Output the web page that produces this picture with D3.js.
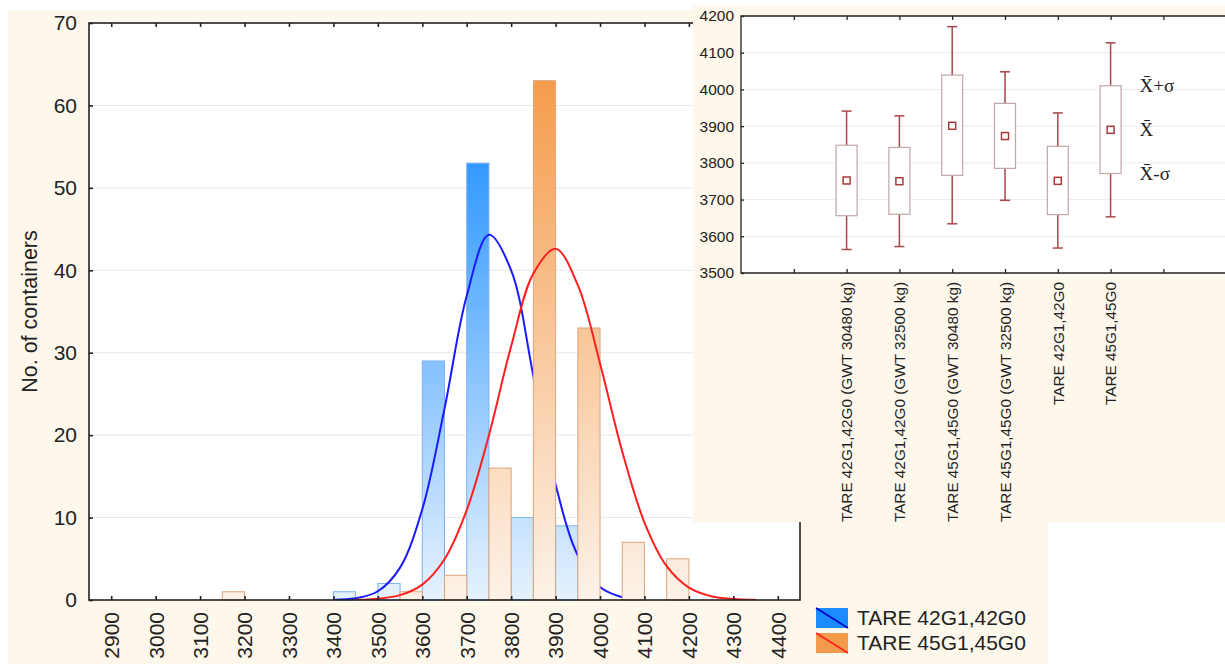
<!DOCTYPE html>
<html>
<head>
<meta charset="utf-8">
<script src="https://cdn.jsdelivr.net/npm/d3@7"></script>
<style>
  body { margin: 0; background: #ffffff; }
  svg { display: block; font-family: "Liberation Sans", Arial, sans-serif; }
</style>
</head>
<body>
<svg id="chart" width="1225" height="664"></svg>
<script>
// histogram data: bins of 100 kg, first series in left half, second in right half
const binStarts = [3100, 3200, 3300, 3400, 3500, 3600, 3700, 3800, 3900, 4000, 4100];
const tare42 = [0, 0, 0, 1, 2, 29, 53, 10, 9, 0, 0];
const tare45 = [1, 0, 0, 0, 1, 3, 16, 63, 33, 7, 5];

// fitted normal curves
const fit42X = [3400, 3450, 3500, 3550, 3600, 3650, 3700, 3750, 3800, 3850, 3900, 3950, 4000, 4050, 4100];
const fit42Y = [0.03, 0.21, 1.06, 3.93, 11.0, 23.2, 36.9, 44.3, 40.0, 27.2, 14.0, 5.4, 1.57, 0.34, 0.06];
const fit45X = [3450, 3500, 3550, 3600, 3650, 3700, 3750, 3800, 3850, 3900, 3950, 4000, 4050, 4100, 4150, 4200, 4250, 4300, 4350];
const fit45Y = [0.03, 0.16, 0.59, 1.87, 4.94, 10.9, 20.0, 30.8, 39.6, 42.6, 38.2, 28.7, 18.0, 9.4, 4.1, 1.5, 0.46, 0.12, 0.03];

const xTicks = [2900, 3000, 3100, 3200, 3300, 3400, 3500, 3600, 3700, 3800, 3900, 4000, 4100, 4200, 4300, 4400];
const yTicks = [0, 10, 20, 30, 40, 50, 60, 70];
const seriesNames = ["TARE 42G1,42G0", "TARE 45G1,45G0"];

// inset: mean, mean +- sd, mean +- 1.96 sd
const boxCats = ["TARE 42G1,42G0 (GWT 30480 kg)", "TARE 42G1,42G0 (GWT 32500 kg)",
                 "TARE 45G1,45G0 (GWT 30480 kg)", "TARE 45G1,45G0 (GWT 32500 kg)",
                 "TARE 42G1,42G0", "TARE 45G1,45G0"];
const boxMean = [3752, 3750, 3901, 3873, 3751, 3890];
const boxLow = [3656, 3660, 3766, 3785, 3659, 3771];
const boxHigh = [3848, 3842, 4039, 3962, 3845, 4010];
const whiskLow = [3564, 3572, 3634, 3698, 3568, 3653];
const whiskHigh = [3941, 3928, 4171, 4048, 3936, 4127];
const insetYTicks = [3500, 3600, 3700, 3800, 3900, 4000, 4100, 4200];
const insetXTicks = [1, 2, 3, 4, 5, 6, 7, 8];
const insetNotes = ["X\u0304+\u03c3", "X\u0304", "X\u0304-\u03c3"];

const svg = d3.select('#chart');
const beige = '#fef8ec';
const ink = '#222222';

// ---------- main histogram ----------
const plot = { left: 89, right: 800, top: 23, bottom: 600 };
const x = d3.scaleLinear().domain([2850, 4450]).range([plot.left, plot.right]);
const y = d3.scaleLinear().domain([0, 70]).range([plot.bottom, plot.top]);

svg.append('rect').attr('x', 8).attr('y', 10).attr('width', 1040).attr('height', 654).attr('fill', beige);
svg.append('rect').attr('x', plot.left).attr('y', plot.top)
   .attr('width', plot.right - plot.left).attr('height', plot.bottom - plot.top).attr('fill', '#ffffff');

const defs = svg.append('defs');
function addGradient(id, top, bottomColor, topColor) {
  const g = defs.append('linearGradient').attr('id', id)
      .attr('gradientUnits', 'userSpaceOnUse')
      .attr('x1', 0).attr('y1', y(0)).attr('x2', 0).attr('y2', y(top));
  g.append('stop').attr('offset', 0).attr('stop-color', bottomColor);
  g.append('stop').attr('offset', 1).attr('stop-color', topColor);
}
addGradient('gBlue', 53, '#e6f2fe', '#3399ff');
addGradient('gOrange', 63, '#fdf2e8', '#f59c4c');
defs.append('clipPath').attr('id', 'plotClip').append('rect')
    .attr('x', plot.left).attr('y', plot.top)
    .attr('width', plot.right - plot.left).attr('height', plot.bottom - plot.top);

svg.append('g').selectAll('line').data(yTicks.filter(d => d > 0 && d < 70)).join('line')
   .attr('x1', plot.left).attr('x2', plot.right)
   .attr('y1', d => y(d)).attr('y2', d => y(d))
   .attr('stroke', '#e8e8e8').attr('stroke-width', 1);

const line = d3.line().x(d => x(d[0])).y(d => y(d[1])).curve(d3.curveCatmullRom);

function drawSeries(values, offset, fill, stroke, fitX, fitY, lineColor) {
  const data = binStarts.map((b, i) => ({ b: b, v: values[i] })).filter(d => d.v > 0);
  svg.append('g').selectAll('rect').data(data).join('rect')
     .attr('x', d => x(d.b + offset))
     .attr('width', d => x(d.b + offset + 50) - x(d.b + offset))
     .attr('y', d => y(d.v))
     .attr('height', d => y(0) - y(d.v))
     .attr('fill', fill).attr('stroke', stroke).attr('stroke-width', 1);
  svg.append('path').datum(fitX.map((v, i) => [v, fitY[i]]))
     .attr('d', line).attr('fill', 'none')
     .attr('stroke', lineColor).attr('stroke-width', 2)
     .attr('clip-path', 'url(#plotClip)');
}
drawSeries(tare42, 0, 'url(#gBlue)', '#7fb1f2', fit42X, fit42Y, '#1a1aff');
drawSeries(tare45, 50, 'url(#gOrange)', '#dba67c', fit45X, fit45Y, '#ff1f1f');

// frame + ticks
svg.append('rect').attr('x', plot.left).attr('y', plot.top)
   .attr('width', plot.right - plot.left).attr('height', plot.bottom - plot.top)
   .attr('fill', 'none').attr('stroke', ink).attr('stroke-width', 1.6);

const xAxis = svg.append('g').attr('transform', `translate(0,${plot.bottom})`)
   .call(d3.axisBottom(x).tickValues(xTicks).tickSize(-4).tickSizeOuter(0).tickFormat(d3.format('d')));
xAxis.select('.domain').remove();
xAxis.selectAll('line').attr('stroke', ink).attr('stroke-width', 1.6);
xAxis.selectAll('text')
   .attr('transform', 'rotate(-90)').attr('text-anchor', 'end')
   .attr('x', -12).attr('y', 0).attr('dy', '0.35em')
   .attr('font-size', 21).attr('fill', ink);

const xTop = svg.append('g').attr('transform', `translate(0,${plot.top})`)
   .call(d3.axisTop(x).tickValues(xTicks).tickSize(-4).tickSizeOuter(0).tickFormat(''));
xTop.select('.domain').remove();
xTop.selectAll('line').attr('stroke', ink).attr('stroke-width', 1.6);

const yAxis = svg.append('g').attr('transform', `translate(${plot.left},0)`)
   .call(d3.axisLeft(y).tickValues(yTicks).tickSize(-4).tickSizeOuter(0).tickPadding(12));
yAxis.select('.domain').remove();
yAxis.selectAll('line').attr('stroke', ink).attr('stroke-width', 1.6);
yAxis.selectAll('text').attr('font-size', 21).attr('fill', ink);

svg.append('text')
   .attr('transform', `translate(37,${(plot.top + plot.bottom) / 2}) rotate(-90)`)
   .attr('text-anchor', 'middle').attr('font-size', 21.5).attr('fill', ink)
   .text('No. of containers');

// legend
const legend = svg.append('g');
const legendFill = ['#1a8cff', '#f59a4a'];
const legendLine = ['#0000cc', '#ff1f1f'];
seriesNames.forEach((name, i) => {
  const ly = 608 + i * 25;
  legend.append('rect').attr('x', 816).attr('y', ly).attr('width', 32).attr('height', 20)
        .attr('fill', legendFill[i]);
  legend.append('line').attr('x1', 816).attr('y1', ly).attr('x2', 848).attr('y2', ly + 20)
        .attr('stroke', legendLine[i]).attr('stroke-width', 1.5);
  legend.append('text').attr('x', 857).attr('y', ly + 17)
        .attr('font-size', 21).attr('fill', ink).text(name);
});

// ---------- inset: mean / sd plot ----------
const inset = svg.append('g');
const ip = { left: 741, right: 1225, top: 16, bottom: 273 };
const ix = d3.scaleLinear().domain([0, 9.2]).range([ip.left, ip.left + 52.8 * 9.2]);
const iy = d3.scaleLinear().domain([3500, 4200]).range([ip.bottom, ip.top]);

inset.append('rect').attr('x', 693).attr('y', 5).attr('width', 532).attr('height', 517).attr('fill', beige);
inset.append('rect').attr('x', ip.left).attr('y', ip.top)
     .attr('width', ip.right - ip.left + 5).attr('height', ip.bottom - ip.top).attr('fill', '#ffffff');

inset.append('g').selectAll('line').data(insetYTicks.filter(d => d > 3500 && d < 4200)).join('line')
     .attr('x1', ip.left).attr('x2', ip.right)
     .attr('y1', d => iy(d)).attr('y2', d => iy(d))
     .attr('stroke', '#ebebeb').attr('stroke-width', 1);

const boxW = 21, capW = 10, markW = 7;
const boxes = inset.append('g').selectAll('g').data(boxCats).join('g')
     .attr('transform', (d, i) => `translate(${ix(i + 2)},0)`);
boxes.append('line').attr('x1', 0).attr('x2', 0)
     .attr('y1', (d, i) => iy(whiskHigh[i])).attr('y2', (d, i) => iy(whiskLow[i]))
     .attr('stroke', '#a8474a').attr('stroke-width', 1.5);
boxes.append('line').attr('x1', -capW / 2).attr('x2', capW / 2)
     .attr('y1', (d, i) => iy(whiskHigh[i])).attr('y2', (d, i) => iy(whiskHigh[i]))
     .attr('stroke', '#a8474a').attr('stroke-width', 1.5);
boxes.append('line').attr('x1', -capW / 2).attr('x2', capW / 2)
     .attr('y1', (d, i) => iy(whiskLow[i])).attr('y2', (d, i) => iy(whiskLow[i]))
     .attr('stroke', '#a8474a').attr('stroke-width', 1.5);
boxes.append('rect').attr('x', -boxW / 2).attr('width', boxW)
     .attr('y', (d, i) => iy(boxHigh[i])).attr('height', (d, i) => iy(boxLow[i]) - iy(boxHigh[i]))
     .attr('fill', '#ffffff').attr('stroke', '#c2a6a6').attr('stroke-width', 1.2);
boxes.append('rect').attr('x', -markW / 2).attr('width', markW)
     .attr('y', (d, i) => iy(boxMean[i]) - markW / 2).attr('height', markW)
     .attr('fill', '#ffffff').attr('stroke', '#a83a3a').attr('stroke-width', 1.5);

// frame (right side runs off the picture)
inset.append('path')
     .attr('d', `M${ip.right + 2},${ip.top}H${ip.left}V${ip.bottom}H${ip.right + 2}`)
     .attr('fill', 'none').attr('stroke', ink).attr('stroke-width', 1.3);

const ixAxis = inset.append('g').attr('transform', `translate(0,${ip.bottom})`)
     .call(d3.axisBottom(ix).tickValues(insetXTicks).tickSize(-4).tickSizeOuter(0)
             .tickFormat(d => boxCats[d - 2] || ''));
ixAxis.select('.domain').remove();
ixAxis.selectAll('line').attr('stroke', ink).attr('stroke-width', 1.3);
ixAxis.selectAll('text')
     .attr('transform', 'rotate(-90)').attr('text-anchor', 'end')
     .attr('x', -9).attr('y', 0).attr('dy', '0.35em')
     .attr('font-size', 15.3).attr('fill', ink);

const ixTop = inset.append('g').attr('transform', `translate(0,${ip.top})`)
     .call(d3.axisTop(ix).tickValues(insetXTicks).tickSize(-4).tickSizeOuter(0).tickFormat(''));
ixTop.select('.domain').remove();
ixTop.selectAll('line').attr('stroke', ink).attr('stroke-width', 1.3);

const iyAxis = inset.append('g').attr('transform', `translate(${ip.left},0)`)
     .call(d3.axisLeft(iy).tickValues(insetYTicks).tickSize(-3).tickSizeOuter(0).tickPadding(7)
             .tickFormat(d3.format('d')));
iyAxis.select('.domain').remove();
iyAxis.selectAll('line').attr('stroke', ink).attr('stroke-width', 1.3);
iyAxis.selectAll('text').attr('font-size', 15.5).attr('fill', ink);

// labels next to the last box
const lastI = boxCats.length - 1;
const noteVals = [boxHigh[lastI], boxMean[lastI], boxLow[lastI]];
inset.append('g').selectAll('text').data(insetNotes).join('text')
     .attr('x', ix(lastI + 2) + 29)
     .attr('y', (d, i) => iy(noteVals[i]) + 6)
     .attr('font-family', '"Liberation Serif", "Times New Roman", serif')
     .attr('font-size', 19).attr('fill', ink)
     .text(d => d);
</script>
</body>
</html>
